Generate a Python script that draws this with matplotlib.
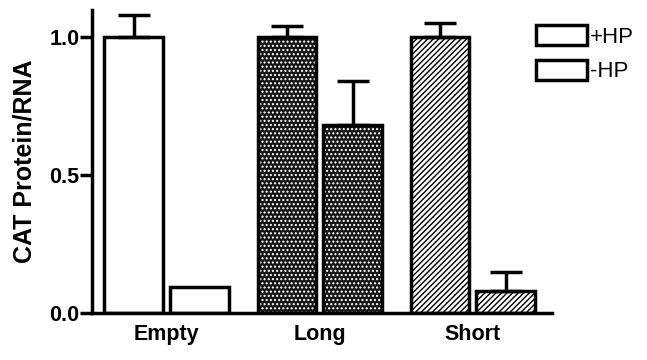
#!/usr/bin/env python3
"""CAT protein/RNA ratio, +HP vs -HP, for three constructs."""

import numpy as np
import matplotlib
matplotlib.use("Agg")
import matplotlib.pyplot as plt
from matplotlib.patches import Patch

# data
groups = ["Empty", "Long", "Short"]
plus_hp = [1.00, 1.00, 1.00]
plus_hp_err = [0.08, 0.04, 0.05]
minus_hp = [0.095, 0.68, 0.08]
minus_hp_err = [0.0, 0.16, 0.07]
yticks = [0.0, 0.5, 1.0]
ytick_labels = ["0.0", "0.5", "1.0"]

plt.rcParams['font.family'] = ['Liberation Sans', 'DejaVu Sans']
plt.rcParams['hatch.linewidth'] = 1.0

LW = 2.5
fig = plt.figure(figsize=(6.47, 3.60), dpi=100)
ax = fig.add_axes([0.142, 0.1306, 0.711, 0.8416])

x = np.arange(len(groups))
width = 0.385
offset = 0.215

# per-group fill styles: (facecolor, hatch colour, hatch)
styles = [
    ('white', 'black', None),
    ('#151515', 'white', '....'),
    ('white', 'black', '//////'),
]

for i in range(len(groups)):
    face, hcol, hatch = styles[i]
    for xpos, val in [(x[i] - offset, plus_hp[i]), (x[i] + offset, minus_hp[i])]:
        # fill + hatch layer
        ax.bar(xpos, val, width, color=face, edgecolor=hcol, hatch=hatch,
               linewidth=0, zorder=2)
        # outline layer
        ax.bar(xpos, val, width, facecolor='none', edgecolor='black',
               linewidth=LW, zorder=3)

# error bars (upper only)
for i in range(len(groups)):
    for xpos, val, err in [(x[i] - offset, plus_hp[i], plus_hp_err[i]),
                           (x[i] + offset, minus_hp[i], minus_hp_err[i])]:
        if err > 0:
            ax.errorbar(xpos, val, yerr=[[0], [err]], fmt='none', ecolor='black',
                        elinewidth=LW, capsize=11.5, capthick=LW, zorder=4)

ax.set_xlim(-0.49, 2.516)
ax.set_ylim(0, 1.098)
ax.set_xticks(x)
ax.set_xticklabels(groups, fontsize=15.5, fontweight='bold')
ax.tick_params(axis='x', length=0, pad=8)
ax.set_yticks(yticks)
ax.set_yticklabels(ytick_labels, fontsize=15.5, fontweight='bold')
ax.tick_params(axis='y', length=9, width=LW, direction='out', pad=0)
ax.set_ylabel('CAT Protein/RNA', fontsize=18, fontweight='bold', labelpad=9)

for side in ['top', 'right']:
    ax.spines[side].set_visible(False)
for side in ['left', 'bottom']:
    ax.spines[side].set_linewidth(LW)

handles = [Patch(facecolor='white', edgecolor='black', linewidth=LW, label='+HP'),
           Patch(facecolor='white', edgecolor='black', linewidth=LW, label='-HP')]
fig.legend(handles=handles, loc='upper left', bbox_to_anchor=(0.814, 0.955),
           frameon=False, fontsize=16, handlelength=2.3, handleheight=1.0,
           handletextpad=0.15, labelspacing=0.55, borderaxespad=0)

fig.savefig('out.png', dpi=100)
